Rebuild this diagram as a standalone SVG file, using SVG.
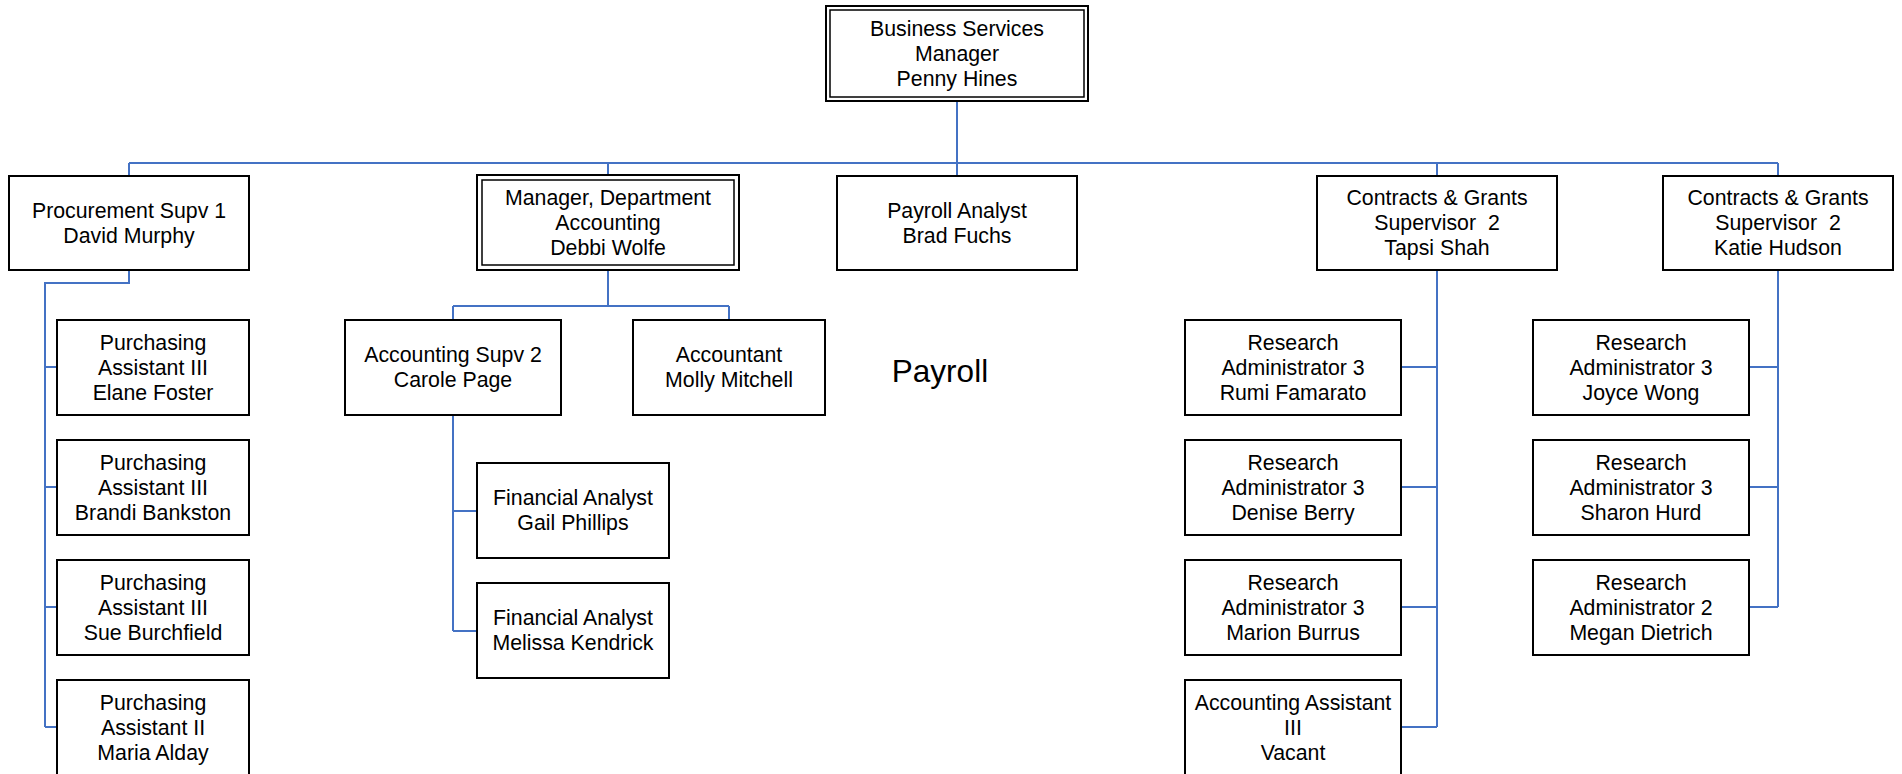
<svg xmlns="http://www.w3.org/2000/svg" width="1902" height="774" viewBox="0 0 1902 774">
<style>
.box{fill:#fff;stroke:#000;stroke-width:2}
.inner{fill:none;stroke:#000;stroke-width:1.5}
.t{font-family:"Liberation Sans",Arial,sans-serif;font-size:21.3px;fill:#000;text-anchor:middle}
.big{font-family:"Liberation Sans",Arial,sans-serif;font-size:31.5px;fill:#000;text-anchor:middle}
.c{fill:none;stroke:#4472C4;stroke-width:2}
</style>
<rect width="1902" height="774" fill="#fff"/>
<g id="connectors">
<path class="c" d="M957,101V163M129,163H1778M129,163V176M608,163V175M957,163V176M1437,163V176M1778,163V176"/>
<path class="c" d="M129,270V283H45V727M45,367H57M45,487H57M45,607H57M45,727H57"/>
<path class="c" d="M608,270V306M453,306H729M453,306V320M729,306V320"/>
<path class="c" d="M453,415V631M453,511H477M453,631H477"/>
<path class="c" d="M1437,270V727M1401,367H1437M1401,487H1437M1401,607H1437M1401,727H1437"/>
<path class="c" d="M1778,270V607M1749,367H1778M1749,487H1778M1749,607H1778"/>
</g>
<g id="n-top">
<rect class="box" x="826" y="6" width="262" height="95"/>
<rect class="inner" x="830" y="10" width="254" height="87"/>
<text class="t" x="957" y="36">Business Services</text>
<text class="t" x="957" y="61">Manager</text>
<text class="t" x="957" y="86">Penny Hines</text>
</g>
<g id="n-proc">
<rect class="box" x="9" y="176" width="240" height="94"/>
<text class="t" x="129" y="218">Procurement Supv 1</text>
<text class="t" x="129" y="243">David Murphy</text>
</g>
<g id="n-mgr">
<rect class="box" x="477" y="175" width="262" height="95"/>
<rect class="inner" x="482" y="180" width="252" height="85"/>
<text class="t" x="608" y="205">Manager, Department</text>
<text class="t" x="608" y="230">Accounting</text>
<text class="t" x="608" y="255">Debbi Wolfe</text>
</g>
<g id="n-payan">
<rect class="box" x="837" y="176" width="240" height="94"/>
<text class="t" x="957" y="218">Payroll Analyst</text>
<text class="t" x="957" y="243">Brad Fuchs</text>
</g>
<g id="n-cg1">
<rect class="box" x="1317" y="176" width="240" height="94"/>
<text class="t" x="1437" y="205">Contracts &amp; Grants</text>
<text class="t" x="1437" y="230" xml:space="preserve">Supervisor  2</text>
<text class="t" x="1437" y="255">Tapsi Shah</text>
</g>
<g id="n-cg2">
<rect class="box" x="1663" y="176" width="230" height="94"/>
<text class="t" x="1778" y="205">Contracts &amp; Grants</text>
<text class="t" x="1778" y="230" xml:space="preserve">Supervisor  2</text>
<text class="t" x="1778" y="255">Katie Hudson</text>
</g>
<g id="n-pa1">
<rect class="box" x="57" y="320" width="192" height="95"/>
<text class="t" x="153" y="350">Purchasing</text>
<text class="t" x="153" y="375">Assistant III</text>
<text class="t" x="153" y="400">Elane Foster</text>
</g>
<g id="n-pa2">
<rect class="box" x="57" y="440" width="192" height="95"/>
<text class="t" x="153" y="470">Purchasing</text>
<text class="t" x="153" y="495">Assistant III</text>
<text class="t" x="153" y="520">Brandi Bankston</text>
</g>
<g id="n-pa3">
<rect class="box" x="57" y="560" width="192" height="95"/>
<text class="t" x="153" y="590">Purchasing</text>
<text class="t" x="153" y="615">Assistant III</text>
<text class="t" x="153" y="640">Sue Burchfield</text>
</g>
<g id="n-pa4">
<rect class="box" x="57" y="680" width="192" height="95"/>
<text class="t" x="153" y="710">Purchasing</text>
<text class="t" x="153" y="735">Assistant II</text>
<text class="t" x="153" y="760">Maria Alday</text>
</g>
<g id="n-acsupv">
<rect class="box" x="345" y="320" width="216" height="95"/>
<text class="t" x="453" y="362">Accounting Supv 2</text>
<text class="t" x="453" y="387">Carole Page</text>
</g>
<g id="n-acct">
<rect class="box" x="633" y="320" width="192" height="95"/>
<text class="t" x="729" y="362">Accountant</text>
<text class="t" x="729" y="387">Molly Mitchell</text>
</g>
<g id="n-fa1">
<rect class="box" x="477" y="463" width="192" height="95"/>
<text class="t" x="573" y="505">Financial Analyst</text>
<text class="t" x="573" y="530">Gail Phillips</text>
</g>
<g id="n-fa2">
<rect class="box" x="477" y="583" width="192" height="95"/>
<text class="t" x="573" y="625">Financial Analyst</text>
<text class="t" x="573" y="650">Melissa Kendrick</text>
</g>
<g id="n-payroll-label">
<text class="big" x="940" y="382">Payroll</text>
</g>
<g id="n-ra1">
<rect class="box" x="1185" y="320" width="216" height="95"/>
<text class="t" x="1293" y="350">Research</text>
<text class="t" x="1293" y="375">Administrator 3</text>
<text class="t" x="1293" y="400">Rumi Famarato</text>
</g>
<g id="n-ra2">
<rect class="box" x="1185" y="440" width="216" height="95"/>
<text class="t" x="1293" y="470">Research</text>
<text class="t" x="1293" y="495">Administrator 3</text>
<text class="t" x="1293" y="520">Denise Berry</text>
</g>
<g id="n-ra3">
<rect class="box" x="1185" y="560" width="216" height="95"/>
<text class="t" x="1293" y="590">Research</text>
<text class="t" x="1293" y="615">Administrator 3</text>
<text class="t" x="1293" y="640">Marion Burrus</text>
</g>
<g id="n-aa3">
<rect class="box" x="1185" y="680" width="216" height="95"/>
<text class="t" x="1293" y="710">Accounting Assistant</text>
<text class="t" x="1293" y="735">III</text>
<text class="t" x="1293" y="760">Vacant</text>
</g>
<g id="n-rb1">
<rect class="box" x="1533" y="320" width="216" height="95"/>
<text class="t" x="1641" y="350">Research</text>
<text class="t" x="1641" y="375">Administrator 3</text>
<text class="t" x="1641" y="400">Joyce Wong</text>
</g>
<g id="n-rb2">
<rect class="box" x="1533" y="440" width="216" height="95"/>
<text class="t" x="1641" y="470">Research</text>
<text class="t" x="1641" y="495">Administrator 3</text>
<text class="t" x="1641" y="520">Sharon Hurd</text>
</g>
<g id="n-rb3">
<rect class="box" x="1533" y="560" width="216" height="95"/>
<text class="t" x="1641" y="590">Research</text>
<text class="t" x="1641" y="615">Administrator 2</text>
<text class="t" x="1641" y="640">Megan Dietrich</text>
</g>
</svg>
